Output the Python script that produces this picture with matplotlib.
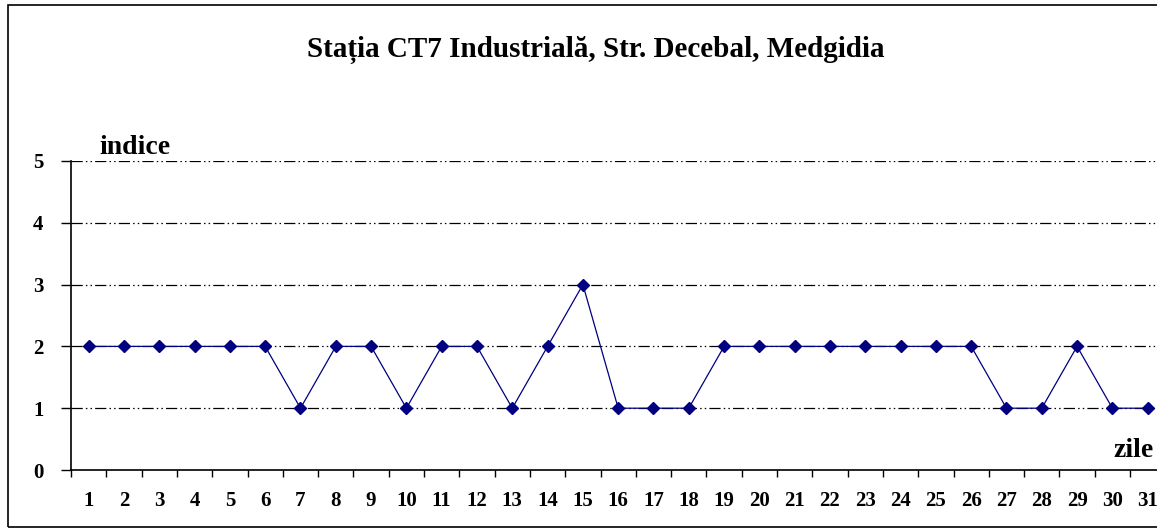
import matplotlib.pyplot as plt
from matplotlib.patches import Rectangle

# data
zile = list(range(1, 32))
indice = [2, 2, 2, 2, 2, 2, 1, 2, 2, 1, 2, 2, 1, 2, 3, 1, 1, 1, 2, 2,
          2, 2, 2, 2, 2, 2, 1, 1, 2, 1, 1]
y_ticks = [0, 1, 2, 3, 4, 5]
titlu = "Stația CT7 Industrială, Str. Decebal, Medgidia"

plt.rcParams['font.family'] = ['Liberation Serif', 'DejaVu Serif']
plt.rcParams['font.weight'] = 'bold'

fig = plt.figure(figsize=(11.57, 5.29), dpi=100)
ax = fig.add_axes([0.0614, 0.1115, 0.9458, 0.5842])

# frame around the whole figure
fig.patches.append(Rectangle((0.007, 0.004), 1.2, 0.986, transform=fig.transFigure,
                             fill=False, edgecolor='black', linewidth=1.2))

for y in y_ticks[1:]:
    ax.axhline(y, color='black', linewidth=0.9, linestyle=(0, (9, 2.5, 1.2, 2.5, 1.2, 2.5)),
               zorder=1)

ax.plot(zile, indice, color='#000080', linewidth=0.9, marker='D', markersize=6,
        markerfacecolor='#000080', markeredgecolor='#000080', zorder=3)

ax.set_xlim(0.5, 31.5)
ax.set_ylim(0, 5)

ax.set_yticks(y_ticks)
ax.set_yticklabels([str(v) for v in y_ticks], fontsize=15, fontweight='bold')
ax.tick_params(axis='y', direction='out', length=7, width=1, pad=13)

ax.set_xticks([z + 0.5 for z in [0] + zile])
ax.set_xticklabels([])
ax.set_xticks(zile, minor=True)
ax.set_xticklabels([str(z) for z in zile], minor=True, fontsize=15, fontweight='bold')
ax.tick_params(axis='x', which='major', direction='out', length=5, width=1)
ax.tick_params(axis='x', which='minor', length=0, pad=15)

for s in ['top', 'right']:
    ax.spines[s].set_visible(False)
ax.spines['left'].set_linewidth(1.2)
ax.spines['bottom'].set_linewidth(1.2)

ax.text(1.3, 5.02, "indice", fontsize=20, fontweight='bold', ha='left', va='bottom')
fig.text(1154 / 1157, 0.125, "zile", fontsize=20, fontweight='bold', ha='right', va='bottom')

fig.text(0.515, 0.905, titlu, fontsize=21, fontweight='bold', ha='center', va='center')

fig.savefig("out.png", dpi=100)
